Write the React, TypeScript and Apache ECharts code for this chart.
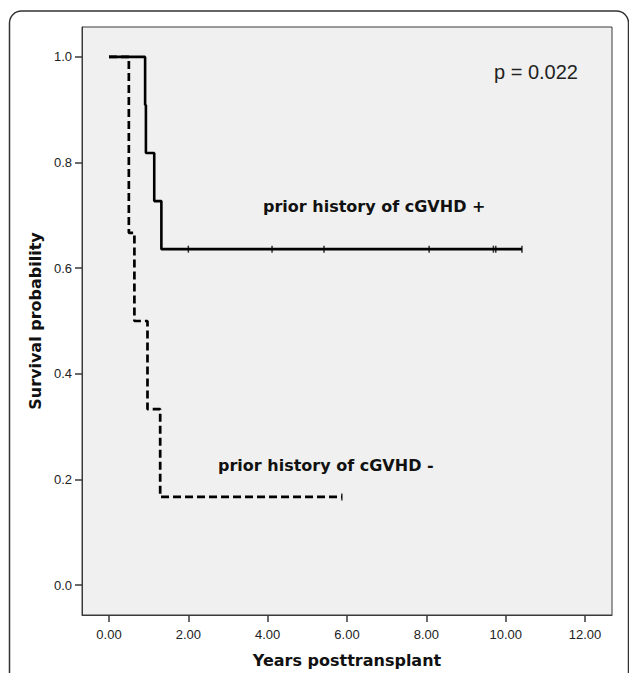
import React, { useEffect, useRef } from "react";
import * as echarts from "echarts";

// Kaplan-Meier: prior history of cGVHD +
const plusTimes = [0, 0.91, 0.93, 1.14, 1.32, 10.41];
const plusSurvival = [1.0, 0.909, 0.818, 0.727, 0.636, 0.636];
const plusCensorTimes = [2.0, 4.11, 5.42, 8.07, 9.69, 9.75, 10.41];
const plusCensorSurvival = [0.636, 0.636, 0.636, 0.636, 0.636, 0.636, 0.636];

// Kaplan-Meier: prior history of cGVHD -
const minusTimes = [0, 0.5, 0.64, 0.97, 1.29, 5.87];
const minusSurvival = [1.0, 0.667, 0.5, 0.333, 0.167, 0.167];
const minusCensorTimes = [5.87];
const minusCensorSurvival = [0.167];

const xTicks = [0, 2, 4, 6, 8, 10, 12];
const yTicks = [0, 0.2, 0.4, 0.6, 0.8, 1.0];

const labelPlus = "prior history of cGVHD +";
const labelMinus = "prior history of cGVHD -";
const pValueText = "p = 0.022";
const xTitle = "Years posttransplant";
const yTitle = "Survival probability";

const zip = (xs: number[], ys: number[]) => xs.map((x, i) => [x, ys[i]]);

export default function App() {
  const ref = useRef<HTMLDivElement>(null);
  useEffect(() => {
    if (!ref.current) return;
    const chart = echarts.init(ref.current, null, { renderer: "svg" });
    const font = "'Liberation Sans', Arial, sans-serif";
    const boldFont = "'DejaVu Sans', Verdana, sans-serif";
    chart.setOption({
      animation: false,
      backgroundColor: "#ffffff",
      grid: {
        left: 82,
        top: 27,
        width: 530,
        height: 590,
        show: true,
        backgroundColor: "#f0f0f0",
        borderColor: "#3a3a3a",
        borderWidth: 1,
      },
      xAxis: {
        type: "value",
        min: -0.681,
        max: 12.68,
        splitLine: { show: false },
        axisLine: { show: true, onZero: false, lineStyle: { color: "#3a3a3a", width: 1 } },
        axisTick: {
          show: true,
          customValues: xTicks,
          length: 7,
          lineStyle: { color: "#3a3a3a", width: 1.5 },
        },
        axisLabel: {
          customValues: xTicks,
          formatter: (v: number) => v.toFixed(2),
          color: "#222",
          fontFamily: font,
          fontSize: 13,
          margin: 13,
        },
        name: xTitle,
        nameLocation: "middle",
        nameGap: 37,
        nameTextStyle: { color: "#111", fontFamily: boldFont, fontWeight: "bold", fontSize: 16 },
      },
      yAxis: {
        type: "value",
        min: -0.0566,
        max: 1.0566,
        splitLine: { show: false },
        axisLine: { show: true, onZero: false, lineStyle: { color: "#3a3a3a", width: 1 } },
        axisTick: {
          show: true,
          customValues: yTicks,
          length: 7,
          lineStyle: { color: "#3a3a3a", width: 1.5 },
        },
        axisLabel: {
          customValues: yTicks,
          formatter: (v: number) => v.toFixed(1),
          color: "#222",
          fontFamily: font,
          fontSize: 13,
          margin: 10,
        },
        name: yTitle,
        nameLocation: "middle",
        nameGap: 33,
        nameTextStyle: { color: "#111", fontFamily: boldFont, fontWeight: "bold", fontSize: 16 },
      },
      series: [
        {
          type: "line",
          step: "end",
          data: zip(minusTimes, minusSurvival),
          showSymbol: false,
          lineStyle: { color: "#000", width: 2.7, type: [8, 4] },
          z: 2,
        },
        {
          type: "line",
          step: "end",
          data: zip(plusTimes, plusSurvival),
          showSymbol: false,
          lineStyle: { color: "#000", width: 2.6, type: "solid" },
          z: 3,
        },
        {
          type: "scatter",
          data: zip(plusCensorTimes, plusCensorSurvival),
          symbol: "rect",
          symbolSize: [1.5, 7],
          itemStyle: { color: "#000" },
          z: 4,
        },
        {
          type: "scatter",
          data: zip(minusCensorTimes, minusCensorSurvival),
          symbol: "rect",
          symbolSize: [1.5, 7],
          itemStyle: { color: "#000" },
          z: 4,
        },
      ],
      graphic: [
        {
          type: "rect",
          shape: { x: 9.5, y: 11, width: 619, height: 720, r: 12 },
          style: { fill: "none", stroke: "#333", lineWidth: 1.5 },
          silent: true,
        },
        {
          type: "text",
          x: 263,
          y: 206,
          style: {
            text: labelPlus,
            fill: "#111",
            font: `bold 16px ${boldFont}`,
            textVerticalAlign: "middle",
          },
        },
        {
          type: "text",
          x: 218,
          y: 465,
          style: {
            text: labelMinus,
            fill: "#111",
            font: `bold 16px ${boldFont}`,
            textVerticalAlign: "middle",
          },
        },
        {
          type: "text",
          x: 494,
          y: 72,
          style: {
            text: pValueText,
            fill: "#222",
            font: `20px ${font}`,
            textVerticalAlign: "middle",
          },
        },
      ],
    });
    return () => chart.dispose();
  }, []);
  return (
    <div
      ref={ref}
      style={{ position: "fixed", left: 0, top: 0, width: 629, height: 673 }}
    />
  );
}
